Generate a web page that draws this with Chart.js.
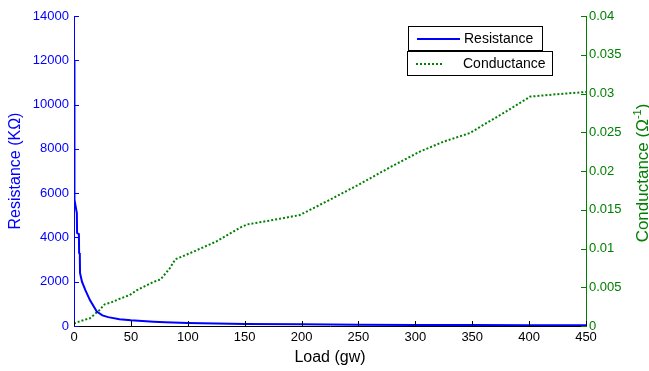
<!DOCTYPE html>
<html>
<head>
<meta charset="utf-8">
<script src="https://cdn.jsdelivr.net/npm/chart.js@4/dist/chart.umd.min.js"></script>
<style>
  html, body { margin: 0; padding: 0; background: #fff; }
  #wrap { width: 649px; height: 371px; }
</style>
</head>
<body>
<div id="wrap"><canvas id="chart" width="649" height="371"></canvas></div>
<script>
// values
const loadR = [0, 0.4, 2.5, 2.7, 4.3, 4.5, 5.1, 5.3, 7, 10, 14, 20, 25, 30, 40, 50, 70, 80, 100, 150, 200, 250, 300, 350, 400, 450];
const resistance = [12000, 5700, 5100, 4200, 4150, 3300, 3250, 2400, 2000, 1620, 1170, 650, 480, 400, 310, 260, 195, 170, 140, 95, 80, 60, 50, 45, 38, 33];

const loadG = [0, 5, 14, 22, 27, 32, 40, 49, 55, 70, 76, 84, 89, 102, 125, 146, 152, 172, 198, 205, 225, 251, 278, 304, 325, 348, 357, 380, 401, 424, 450];
const conductance = [0.0003, 0.0006, 0.001, 0.002, 0.0028, 0.003, 0.0035, 0.004, 0.0046, 0.0057, 0.006, 0.0074, 0.0086, 0.0094, 0.0109, 0.0127, 0.0131, 0.0136, 0.0143, 0.0148, 0.0163, 0.0183, 0.0205, 0.0225, 0.0238, 0.0249, 0.0257, 0.0277, 0.0296, 0.0299, 0.0302];

const xTicks = [0, 50, 100, 150, 200, 250, 300, 350, 400, 450];

const BLUE = '#0000ff';
const GREEN = '#008000';
const FONT = 'Liberation Sans, Arial, sans-serif';

// MATLAB style: ticks point into the plot, two boxed legends, right title reads upward
const matlabBits = {
    id: 'matlabBits',
    afterDatasetsDraw(chart) {
        const ctx = chart.ctx;
        const area = chart.chartArea;
        const sx = chart.scales.x, sy = chart.scales.y, sy1 = chart.scales.y1;
        ctx.save();
        ctx.lineWidth = 1;

        ctx.strokeStyle = '#000';
        sx.ticks.forEach((t, i) => {
            const px = Math.round(sx.getPixelForTick(i)) + 0.5;
            ctx.beginPath();
            ctx.moveTo(px, area.bottom);
            ctx.lineTo(px, area.bottom - 5);
            ctx.stroke();
        });
        ctx.strokeStyle = BLUE;
        sy.ticks.forEach((t, i) => {
            const py = Math.round(sy.getPixelForTick(i)) + 0.5;
            ctx.beginPath();
            ctx.moveTo(area.left, py);
            ctx.lineTo(area.left + 5, py);
            ctx.stroke();
        });
        ctx.strokeStyle = GREEN;
        sy1.ticks.forEach((t, i) => {
            const py = Math.round(sy1.getPixelForTick(i)) + 0.5;
            ctx.beginPath();
            ctx.moveTo(area.right, py);
            ctx.lineTo(area.right - 5, py);
            ctx.stroke();
        });

        // legend boxes
        const boxes = [
            {x: 408, y: 26, w: 134, h: 24, label: 'Resistance', color: BLUE, dash: [], len: 43},
            {x: 407, y: 51, w: 145, h: 24, label: 'Conductance', color: GREEN, dash: [2, 2], len: 27}
        ];
        ctx.font = '14px ' + FONT;
        ctx.textBaseline = 'middle';
        boxes.forEach(b => {
            ctx.fillStyle = '#fff';
            ctx.fillRect(b.x, b.y, b.w, b.h);
            ctx.strokeStyle = '#000';
            ctx.setLineDash([]);
            ctx.strokeRect(b.x + 0.5, b.y + 0.5, b.w, b.h);
            ctx.strokeStyle = b.color;
            ctx.lineWidth = 2;
            ctx.setLineDash(b.dash);
            ctx.beginPath();
            ctx.moveTo(b.x + 9, b.y + b.h / 2 + 1);
            ctx.lineTo(b.x + 9 + b.len, b.y + b.h / 2 + 1);
            ctx.stroke();
            ctx.lineWidth = 1;
            ctx.fillStyle = '#000';
            ctx.fillText(b.label, b.x + 56, b.y + b.h / 2 + 1);
        });

        // right axis title, rotated to read bottom-to-top, with superscript -1
        const main = 'Conductance (Ω';
        const sup = '-1';
        const end = ')';
        const bigFont = '17px ' + FONT, smallFont = '11px ' + FONT;
        ctx.font = bigFont;
        const w1 = ctx.measureText(main).width, w3 = ctx.measureText(end).width;
        ctx.font = smallFont;
        const w2 = ctx.measureText(sup).width;
        const total = w1 + w2 + w3;
        ctx.translate(642, 173);
        ctx.rotate(-Math.PI / 2);
        ctx.fillStyle = GREEN;
        ctx.textBaseline = 'alphabetic';
        ctx.textAlign = 'left';
        let x0 = -total / 2;
        ctx.font = bigFont;
        ctx.fillText(main, x0, 6);
        ctx.font = smallFont;
        ctx.fillText(sup, x0 + w1, -1);
        ctx.font = bigFont;
        ctx.fillText(end, x0 + w1 + w2, 6);
        ctx.restore();
    }
};

new Chart(document.getElementById('chart'), {
    type: 'line',
    data: {
        datasets: [
            {
                label: 'Resistance',
                data: loadR.map((x, i) => ({x: x, y: resistance[i]})),
                borderColor: BLUE,
                borderWidth: 2,
                pointRadius: 0,
                tension: 0,
                yAxisID: 'y'
            },
            {
                label: 'Conductance',
                data: loadG.map((x, i) => ({x: x, y: conductance[i]})),
                borderColor: GREEN,
                borderWidth: 2,
                borderDash: [2, 2],
                pointRadius: 0,
                tension: 0,
                yAxisID: 'y1'
            }
        ]
    },
    options: {
        responsive: false,
        animation: false,
        layout: { padding: { top: 16, left: 0, right: 0, bottom: 0 } },
        plugins: {
            legend: { display: false },
            tooltip: { enabled: false }
        },
        scales: {
            x: {
                type: 'linear',
                min: 0,
                max: 450,
                afterBuildTicks: s => { s.ticks = xTicks.map(v => ({value: v})); },
                afterFit: s => { s.height = 45; },
                grid: { display: false, drawTicks: false },
                border: { display: true, color: '#000', width: 1 },
                ticks: { color: '#000', font: { size: 13, family: FONT }, padding: 4, maxRotation: 0 },
                title: { display: true, text: 'Load (gw)', color: '#000', font: { size: 16, family: FONT }, padding: { top: 2, bottom: 4 } }
            },
            y: {
                position: 'left',
                min: 0,
                max: 14000,
                afterFit: s => { s.width = 74; },
                grid: { display: false, drawTicks: false },
                border: { display: true, color: BLUE, width: 1 },
                ticks: { stepSize: 2000, color: BLUE, font: { size: 13, family: FONT }, padding: 5, callback: v => String(v) },
                title: { display: true, text: 'Resistance (KΩ)', color: BLUE, font: { size: 16, family: FONT }, padding: { top: 6, bottom: 0 } }
            },
            y1: {
                position: 'right',
                min: 0,
                max: 0.04,
                afterFit: s => { s.width = 63; },
                grid: { display: false, drawTicks: false },
                border: { display: true, color: GREEN, width: 1 },
                ticks: { stepSize: 0.005, color: GREEN, font: { size: 13, family: FONT }, padding: 3, callback: v => String(+v.toFixed(3)) },
                title: { display: false }
            }
        }
    },
    plugins: [matlabBits]
});
</script>
</body>
</html>
